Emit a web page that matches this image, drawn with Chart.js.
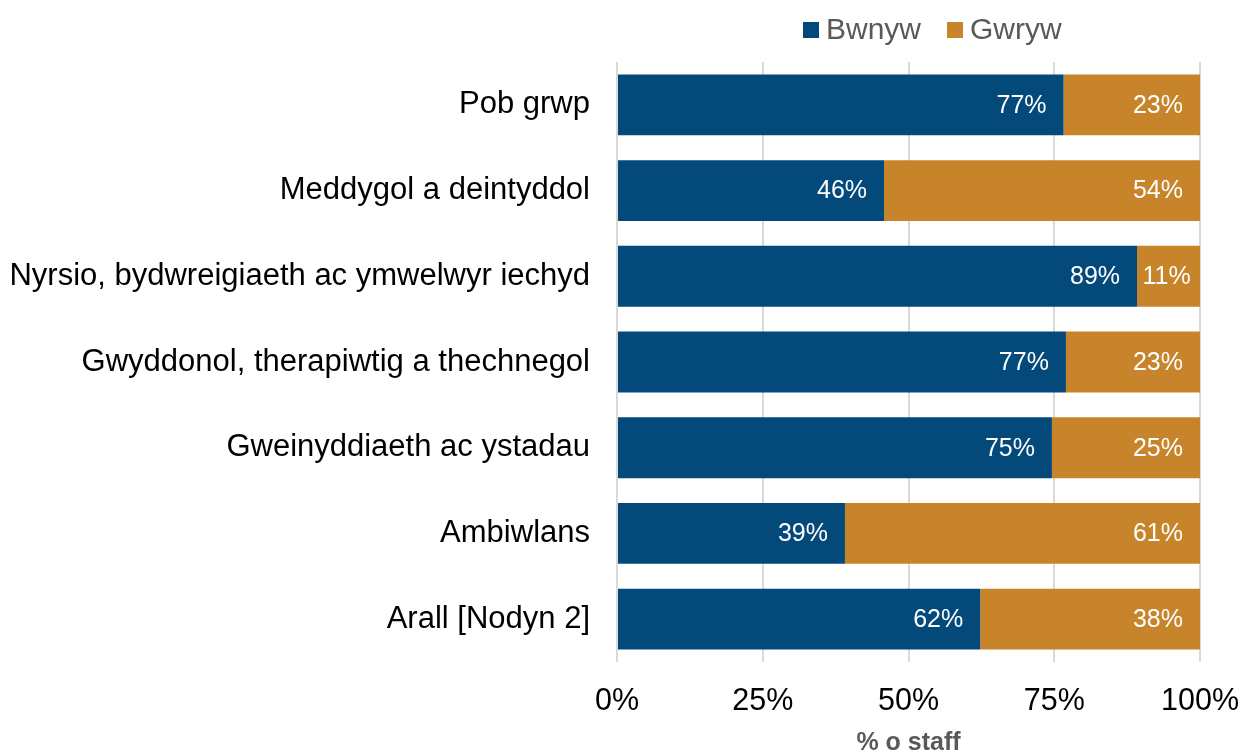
<!DOCTYPE html>
<html>
<head>
<meta charset="utf-8">
<script src="https://cdn.jsdelivr.net/npm/chart.js@4"></script>
<style>
  body { margin: 0; background: #fff; }
  #wrap { width: 1240px; height: 753px; }
</style>
</head>
<body>
<div id="wrap"><canvas id="mychart" width="1240" height="753"></canvas></div>
<script>
var groups = ["Pob grwp", "Meddygol a deintyddol", "Nyrsio, bydwreigiaeth ac ymwelwyr iechyd",
  "Gwyddonol, therapiwtig a thechnegol", "Gweinyddiaeth ac ystadau", "Ambiwlans", "Arall [Nodyn 2]"];
var female = [76.6, 45.8, 89.2, 77.0, 74.6, 39.1, 62.3];
var male = [23.4, 54.2, 10.8, 23.0, 25.4, 60.9, 37.7];
var xTicks = ["0%", "25%", "50%", "75%", "100%"];

var blue = "#034A7B";
var orange = "#C8842A";
var fontFam = "'Liberation Sans', Arial, sans-serif";

// white value labels near the end of each bar segment
var barLabels = {
  id: "barLabels",
  afterDatasetsDraw: function(chart) {
    var ctx = chart.ctx;
    ctx.save();
    ctx.font = "25px " + fontFam;
    ctx.fillStyle = "#fff";
    ctx.textBaseline = "middle";
    chart.data.datasets.forEach(function(ds, di) {
      chart.getDatasetMeta(di).data.forEach(function(bar, i) {
        var txt = Math.round(ds.data[i]) + "%";
        var w = ctx.measureText(txt).width;
        var left = bar.base, right = bar.x;
        if (w + 30 > right - left) {
          ctx.textAlign = "center";
          ctx.fillText(txt, (left + right) / 2 - 2, bar.y + 1);
        } else {
          ctx.textAlign = "right";
          ctx.fillText(txt, right - 17, bar.y + 1);
        }
      });
    });
    ctx.restore();
  }
};

// legend drawn by hand so it sits over the plot area
var topLegend = {
  id: "topLegend",
  afterDraw: function(chart) {
    var ctx = chart.ctx;
    ctx.save();
    ctx.font = "30px " + fontFam;
    ctx.textBaseline = "middle";
    ctx.textAlign = "left";
    var x = 803, y = 30;
    chart.data.datasets.forEach(function(ds) {
      ctx.fillStyle = ds.backgroundColor;
      ctx.fillRect(x, y - 8, 16, 16);
      ctx.fillStyle = "#595959";
      ctx.fillText(ds.label, x + 23, y + 1);
      x += 23 + ctx.measureText(ds.label).width + 26;
    });
    ctx.restore();
  }
};

var ctx = document.getElementById("mychart");
var barGraph = new Chart(ctx, {
  type: "bar",
  data: {
    labels: groups,
    datasets: [
      { label: "Bwnyw", data: female, backgroundColor: blue, borderWidth: 0 },
      { label: "Gwryw", data: male, backgroundColor: orange, borderWidth: 0 }
    ]
  },
  options: {
    indexAxis: "y",
    responsive: false,
    animation: false,
    categoryPercentage: 1,
    barPercentage: 0.71,
    layout: { padding: { top: 62, right: 40, left: 0, bottom: 0 } },
    plugins: {
      legend: { display: false },
      tooltip: { enabled: false }
    },
    scales: {
      x: {
        stacked: true,
        min: 0,
        max: 100,
        border: { display: false },
        grid: { color: "#D9D9D9", lineWidth: 2, drawTicks: false },
        ticks: {
          stepSize: 25,
          padding: 21,
          color: "#000",
          font: { family: fontFam, size: 30.5 },
          callback: function(v) { return xTicks[v / 25]; }
        },
        title: {
          display: true,
          text: "% o staff",
          color: "#595959",
          padding: { top: 0, bottom: -5 },
          font: { family: fontFam, size: 25, weight: "bold" }
        },
        afterFit: function(scale) {
          scale.height = 91;
          scale.paddingRight = 0;
          scale.paddingLeft = 0;
        }
      },
      y: {
        stacked: true,
        border: { display: false },
        grid: { display: false },
        ticks: {
          padding: 19,
          color: "#000",
          font: { family: fontFam, size: 31 }
        },
        afterFit: function(scale) {
          scale.width = 617;
          scale.paddingTop = 0;
          scale.paddingBottom = 0;
        }
      }
    }
  },
  plugins: [barLabels, topLegend]
});
</script>
</body>
</html>
